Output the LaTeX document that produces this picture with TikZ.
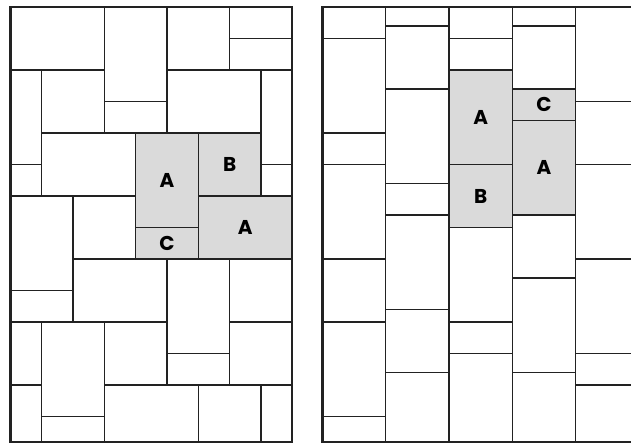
\documentclass[tikz,border=0pt]{standalone}
\usepackage{fontspec}
\setmainfont{Poppins}
\definecolor{edge}{RGB}{34,34,34}
\definecolor{tilegray}{RGB}{218,218,218}
\tikzset{
  tile/.style={draw=edge, line width=1.3pt, fill=white},
  shaded/.style={tile, fill=tilegray},
  frame/.style={draw=edge, line width=2.2pt, line join=miter},
  lbl/.style={font=\fontsize{20}{20}\selectfont\bfseries, text=black, inner sep=0pt},
  declare function={lx(\k)=10.5+31.3*\k; ry(\r)=7+31.5*\r; rx(\k)=322.5+31.65*\k;}
}
\begin{document}
\begin{tikzpicture}[x=1pt,y=-1pt]
\useasboundingbox (0,0) rectangle (631,443);
% ---------- left panel ----------
\foreach \a/\b/\c/\d in {0/0/3/2, 3/0/5/3, 3/3/5/4, 5/0/7/2, 7/0/9/1, 7/1/9/2,
  0/2/1/5, 0/5/1/6, 1/2/3/4, 5/2/8/4, 8/2/9/5, 8/5/9/6, 1/4/4/6,
  0/6/2/9, 0/9/2/10, 2/6/4/8, 2/8/5/10, 5/8/7/11, 5/11/7/12, 7/8/9/10, 7/10/9/12,
  0/10/1/12, 0/12/1/13.81, 1/10/3/13, 1/13/3/13.81, 3/10/5/12, 3/12/6/13.81,
  6/12/8/13.81, 8/12/9/13.81}
  \draw[tile] ({lx(\a)},{ry(\b)}) rectangle ({lx(\c)},{ry(\d)});
\draw[shaded] ({lx(4)},{ry(4)}) rectangle ({lx(6)},{ry(7)}) node[lbl, midway] (lA1) {A};
\draw[shaded] ({lx(4)},{ry(7)}) rectangle ({lx(6)},{ry(8)}) node[lbl, midway] (lC) {C};
\draw[shaded] ({lx(6)},{ry(4)}) rectangle ({lx(8)},{ry(6)}) node[lbl, midway] (lB) {B};
\draw[shaded] ({lx(6)},{ry(6)}) rectangle ({lx(9)},{ry(8)}) node[lbl, midway] (lA2) {A};
\draw[frame] ({lx(0)},{ry(0)}) rectangle ({lx(9)},{ry(13.81)});
% ---------- right panel ----------
\foreach \a/\b/\c/\d in {
  0/0/2/1, 0/1/2/4, 0/4/2/5, 0/5/2/8, 0/8/2/10, 0/10/2/13, 0/13/2/13.81,
  2/0/4/0.6, 2/0.6/4/2.6, 2/2.6/4/5.6, 2/5.6/4/6.6, 2/6.6/4/9.6, 2/9.6/4/11.6, 2/11.6/4/13.81,
  4/0/6/1, 4/1/6/2, 4/7/6/10, 4/10/6/11, 4/11/6/13.81,
  6/0/8/0.6, 6/0.6/8/2.6, 6/6.6/8/8.6, 6/8.6/8/11.6, 6/11.6/8/13.81,
  8/0/10/3, 8/3/10/5, 8/5/10/8, 8/8/10/11, 8/11/10/12, 8/12/10/13.81}
  \draw[tile] ({rx(\a)},{ry(\b)}) rectangle ({rx(\c)},{ry(\d)});
\draw[shaded] ({rx(4)},{ry(2)}) rectangle ({rx(6)},{ry(5)}) node[lbl, midway] (rA1) {A};
\draw[shaded] ({rx(4)},{ry(5)}) rectangle ({rx(6)},{ry(7)}) node[lbl, midway] (rB) {B};
\draw[shaded] ({rx(6)},{ry(2.6)}) rectangle ({rx(8)},{ry(3.6)}) node[lbl, midway] (rC) {C};
\draw[shaded] ({rx(6)},{ry(3.6)}) rectangle ({rx(8)},{ry(6.6)}) node[lbl, midway] (rA2) {A};
\draw[frame] ({rx(10)},{ry(0)}) -- ({rx(0)},{ry(0)}) -- ({rx(0)},{ry(13.81)}) -- ({rx(10)},{ry(13.81)});
\end{tikzpicture}
\end{document}
